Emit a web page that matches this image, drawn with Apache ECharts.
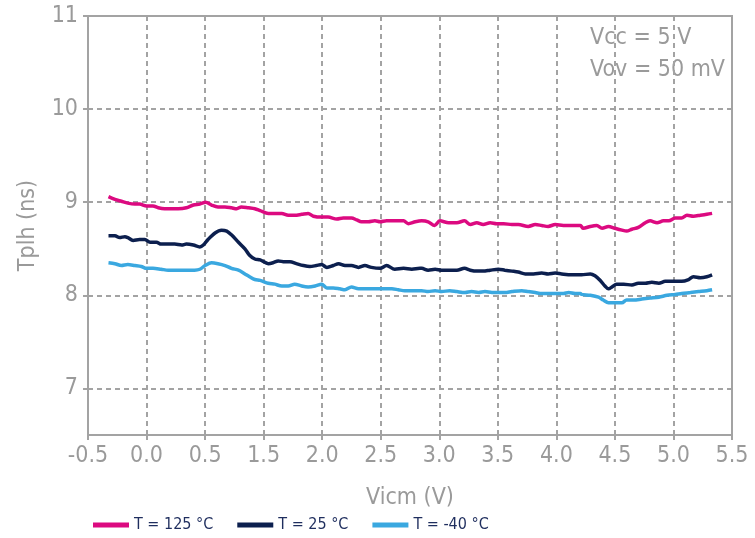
<!DOCTYPE html>
<html>
<head>
<meta charset="utf-8">
<script src="https://cdn.jsdelivr.net/npm/echarts@6/dist/echarts.min.js"></script>
<style>
  html, body { margin: 0; padding: 0; background: #fff; }
  #chart { width: 755px; height: 538px; }
</style>
</head>
<body>
<div id="chart"></div>
<script>
// tick labels as printed on the original (note: no 1.0 tick)
const xTickLabels = ['-0.5', '0.0', '0.5', '1.5', '2.0', '2.5', '3.0', '3.5', '4.0', '4.5', '5.0', '5.5']
const yTickLabels = ['7', '8', '9', '10', '11']
const seriesNames = ['T = 125 °C', 'T = 25 °C', 'T = -40 °C']
const seriesColors = ['#dc0a80', '#0c1f4e', '#3aa8e0']

// [tick position, Tplh ns]
const t125 = [
  [0.35, 9.06], [0.46, 9.03], [0.57, 9.01], [0.68, 8.99], [0.80, 8.98], [0.88, 8.98], [1.00, 8.96],
  [1.11, 8.96], [1.20, 8.94], [1.31, 8.93], [1.43, 8.93], [1.54, 8.93], [1.68, 8.94], [1.80, 8.97],
  [1.91, 8.98], [2.01, 9.00], [2.11, 8.97], [2.22, 8.95], [2.34, 8.95], [2.45, 8.94], [2.54, 8.93],
  [2.62, 8.95], [2.74, 8.94], [2.85, 8.93], [2.94, 8.91], [3.08, 8.88], [3.19, 8.88], [3.31, 8.88],
  [3.42, 8.86], [3.53, 8.86], [3.65, 8.87], [3.76, 8.88], [3.85, 8.85], [3.99, 8.84], [4.10, 8.84],
  [4.25, 8.82], [4.36, 8.83], [4.50, 8.83], [4.59, 8.81], [4.67, 8.79], [4.79, 8.79], [4.90, 8.80],
  [4.99, 8.79], [5.10, 8.80], [5.24, 8.80], [5.39, 8.80], [5.47, 8.77], [5.59, 8.79], [5.70, 8.80],
  [5.81, 8.79], [5.92, 8.75], [6.01, 8.80], [6.16, 8.78], [6.30, 8.78], [6.43, 8.80], [6.53, 8.76],
  [6.64, 8.78], [6.75, 8.76], [6.87, 8.78], [6.98, 8.77], [7.10, 8.77], [7.24, 8.76], [7.35, 8.76],
  [7.52, 8.74], [7.64, 8.76], [7.75, 8.75], [7.86, 8.74], [7.98, 8.76], [8.12, 8.75], [8.26, 8.75],
  [8.41, 8.75], [8.46, 8.72], [8.58, 8.74], [8.69, 8.75], [8.78, 8.72], [8.89, 8.74], [9.00, 8.72],
  [9.12, 8.70], [9.20, 8.69], [9.29, 8.71], [9.40, 8.73], [9.52, 8.78], [9.60, 8.80], [9.72, 8.78],
  [9.83, 8.80], [9.92, 8.80], [10.03, 8.83], [10.14, 8.83], [10.23, 8.86], [10.34, 8.85], [10.46, 8.86],
  [10.57, 8.87], [10.66, 8.88]
]
const t25 = [
  [0.35, 8.64], [0.46, 8.64], [0.54, 8.62], [0.63, 8.63], [0.68, 8.62], [0.77, 8.59], [0.88, 8.60],
  [0.97, 8.60], [1.06, 8.57], [1.17, 8.57], [1.25, 8.55], [1.37, 8.55], [1.48, 8.55], [1.60, 8.54],
  [1.68, 8.55], [1.80, 8.54], [1.91, 8.52], [1.97, 8.54], [2.05, 8.60], [2.17, 8.67], [2.28, 8.70],
  [2.37, 8.69], [2.45, 8.65], [2.57, 8.57], [2.68, 8.50], [2.76, 8.43], [2.85, 8.39], [2.94, 8.38],
  [3.08, 8.34], [3.16, 8.35], [3.25, 8.37], [3.36, 8.36], [3.45, 8.36], [3.56, 8.34], [3.68, 8.32],
  [3.79, 8.31], [3.90, 8.32], [3.99, 8.33], [4.08, 8.30], [4.19, 8.32], [4.28, 8.34], [4.39, 8.32],
  [4.50, 8.32], [4.62, 8.30], [4.73, 8.32], [4.84, 8.30], [4.99, 8.29], [5.10, 8.32], [5.24, 8.28],
  [5.39, 8.29], [5.53, 8.28], [5.67, 8.29], [5.70, 8.29], [5.81, 8.27], [5.93, 8.28], [6.04, 8.27],
  [6.16, 8.27], [6.30, 8.27], [6.43, 8.29], [6.53, 8.27], [6.64, 8.26], [6.75, 8.26], [6.87, 8.27],
  [7.01, 8.28], [7.12, 8.27], [7.24, 8.26], [7.35, 8.25], [7.47, 8.23], [7.61, 8.23], [7.75, 8.24],
  [7.86, 8.23], [7.98, 8.24], [8.09, 8.23], [8.26, 8.22], [8.41, 8.22], [8.43, 8.22], [8.58, 8.23],
  [8.66, 8.21], [8.75, 8.16], [8.83, 8.10], [8.89, 8.07], [8.95, 8.09], [9.03, 8.12], [9.15, 8.12],
  [9.29, 8.11], [9.40, 8.13], [9.52, 8.13], [9.63, 8.14], [9.75, 8.13], [9.86, 8.15], [10.00, 8.15],
  [10.14, 8.15], [10.26, 8.17], [10.34, 8.20], [10.46, 8.19], [10.57, 8.20], [10.66, 8.22]
]
const tm40 = [
  [0.35, 8.35], [0.46, 8.34], [0.57, 8.32], [0.68, 8.33], [0.80, 8.32], [0.91, 8.31], [1.00, 8.29],
  [1.11, 8.29], [1.25, 8.28], [1.37, 8.27], [1.48, 8.27], [1.60, 8.27], [1.71, 8.27], [1.82, 8.27],
  [1.91, 8.28], [2.00, 8.32], [2.11, 8.35], [2.22, 8.34], [2.34, 8.32], [2.45, 8.29], [2.57, 8.27],
  [2.68, 8.23], [2.76, 8.20], [2.85, 8.17], [2.94, 8.16], [3.08, 8.13], [3.19, 8.12], [3.31, 8.10],
  [3.42, 8.10], [3.53, 8.12], [3.65, 8.10], [3.76, 8.09], [3.88, 8.10], [3.99, 8.12], [4.08, 8.08],
  [4.19, 8.08], [4.30, 8.07], [4.39, 8.06], [4.50, 8.09], [4.62, 8.07], [4.73, 8.07], [4.84, 8.07],
  [4.96, 8.07], [5.07, 8.07], [5.19, 8.07], [5.30, 8.06], [5.41, 8.05], [5.53, 8.05], [5.67, 8.05],
  [5.70, 8.05], [5.81, 8.04], [5.93, 8.05], [6.04, 8.04], [6.18, 8.05], [6.30, 8.04], [6.44, 8.03],
  [6.55, 8.04], [6.67, 8.03], [6.78, 8.04], [6.90, 8.03], [7.01, 8.03], [7.12, 8.03], [7.24, 8.04],
  [7.41, 8.05], [7.52, 8.04], [7.64, 8.03], [7.75, 8.02], [7.86, 8.02], [7.98, 8.02], [8.12, 8.02],
  [8.21, 8.03], [8.32, 8.02], [8.41, 8.02], [8.43, 8.01], [8.58, 8.00], [8.72, 7.98], [8.80, 7.95],
  [8.89, 7.92], [9.00, 7.92], [9.12, 7.92], [9.20, 7.95], [9.32, 7.95], [9.46, 7.96], [9.60, 7.97],
  [9.75, 7.98], [9.89, 8.00], [10.03, 8.01], [10.14, 8.02], [10.29, 8.03], [10.43, 8.04], [10.57, 8.05],
  [10.66, 8.06]
]

const grey = '#a3a3a3'
const labelGrey = '#9a9a9a'
const font = '"DejaVu Sans Condensed", sans-serif'

const chart = echarts.init(document.getElementById('chart'))
chart.setOption({
  animation: false,
  graphic: [{
    type: 'text',
    right: 30,
    top: 22,
    style: {
      text: 'Vcc = 5 V\nVov = 50 mV',
      fill: labelGrey,
      font: '23px ' + font,
      lineHeight: 32,
      align: 'right'
    }
  }],
  grid: {
    left: 88,
    right: 23,
    top: 16,
    bottom: 103,
    show: true,
    borderColor: grey,
    borderWidth: 2
  },
  legend: {
    left: 88,
    bottom: 0,
    icon: 'rect',
    itemWidth: 36,
    itemHeight: 5,
    itemGap: 24,
    textStyle: { color: '#1f2e5e', fontFamily: font, fontSize: 16 },
    data: seriesNames
  },
  xAxis: {
    type: 'value',
    min: 0,
    max: xTickLabels.length - 1,
    interval: 1,
    name: 'Vicm (V)',
    nameLocation: 'middle',
    nameGap: 52,
    nameTextStyle: { color: labelGrey, fontFamily: font, fontSize: 23 },
    axisLine: { show: true, lineStyle: { color: grey, width: 2 } },
    axisTick: { show: true, length: 5, lineStyle: { color: grey, width: 2 } },
    axisLabel: {
      color: labelGrey,
      fontFamily: font,
      fontSize: 23,
      margin: 10,
      formatter: v => xTickLabels[Math.round(v)]
    },
    splitLine: { show: true, lineStyle: { color: grey, width: 2, type: [5, 4] } }
  },
  yAxis: {
    type: 'value',
    min: 6.5,
    max: 11,
    splitNumber: 4,
    name: 'Tplh (ns)',
    nameLocation: 'middle',
    nameGap: 48,
    nameTextStyle: { color: labelGrey, fontFamily: font, fontSize: 23 },
    axisLine: { show: true, lineStyle: { color: grey, width: 2 } },
    axisTick: { show: true, length: 5, lineStyle: { color: grey, width: 2 } },
    axisLabel: {
      color: labelGrey,
      fontFamily: font,
      fontSize: 23,
      margin: 10,
      showMinLabel: false,
      formatter: v => (yTickLabels.indexOf(String(v)) >= 0 ? String(v) : '')
    },
    splitLine: { show: true, lineStyle: { color: grey, width: 2, type: [5, 4] } }
  },
  series: [t125, t25, tm40].map((d, i) => ({
    name: seriesNames[i],
    type: 'line',
    data: d,
    showSymbol: false,
    smooth: 0.3,
    color: seriesColors[i],
    lineStyle: { width: 3.5, color: seriesColors[i] }
  }))
})
</script>
</body>
</html>
